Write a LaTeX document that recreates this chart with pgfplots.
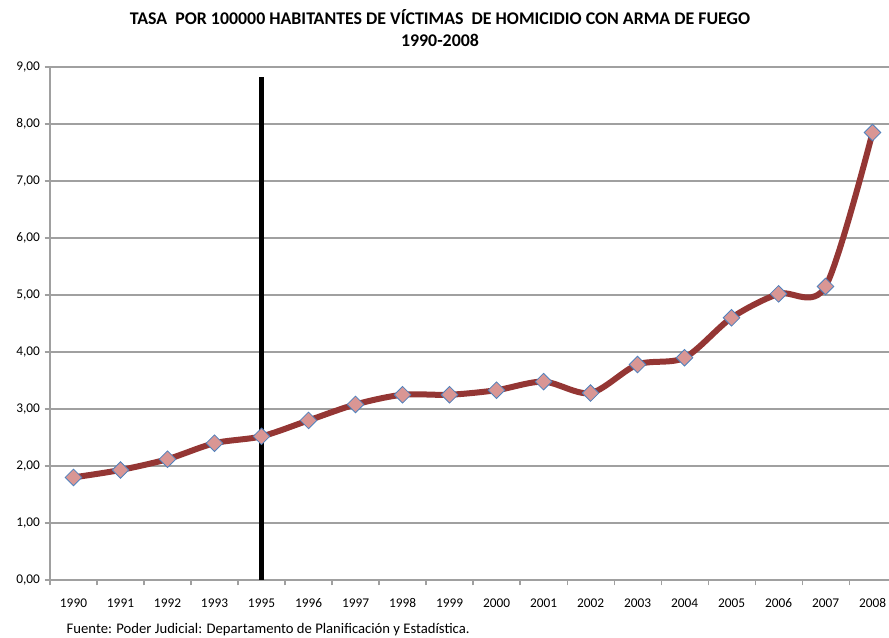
\documentclass[border=0pt]{standalone}
\usepackage{pgfplots}
\pgfplotsset{compat=1.18}
\usepackage{fontspec}
\setmainfont{Carlito}
\definecolor{gridgray}{HTML}{A0A0A0}
\definecolor{linered}{HTML}{943634}
\definecolor{markpink}{HTML}{D99694}
\definecolor{markblue}{HTML}{4F81BD}
\begin{document}
\begin{tikzpicture}
\useasboundingbox (-37.5pt,-43.5pt) rectangle (629.25pt,435pt);
\begin{axis}[
  at={(0,0)}, anchor=south west,
  scale only axis, width=629.25pt, height=384.75pt,
  xmin=-0.5, xmax=17.35, ymin=0, ymax=9,
  axis x line*=bottom, axis y line*=left,
  axis line style={gridgray, line width=0.8pt, -},
  ytick={0,1,...,9},
  ymajorgrids, grid style={gridgray, line width=0.8pt},
  yticklabel style={/pgf/number format/.cd, fixed, fixed zerofill, precision=2, use comma},
  /pgf/number format/assume math mode=true,
  tick label style={font=\fontsize{10}{11}\selectfont, black},
  ytick style={gridgray, line width=0.8pt},
  major tick length=4pt,
  tick align=outside,
  xtick={0,...,17},
  xticklabels={1990,1991,1992,1993,1995,1996,1997,1998,1999,2000,2001,2002,2003,2004,2005,2006,2007,2008},
  xtick style={draw=none},
  xticklabel style={yshift=-6pt, text height=7pt, text depth=1pt},
  extra x ticks={-0.5,0.5,1.5,2.5,3.5,4.5,5.5,6.5,7.5,8.5,9.5,10.5,11.5,12.5,13.5,14.5,15.5,16.5},
  extra x tick labels={},
  extra x tick style={xtick style={draw=gridgray, line width=0.8pt}, major tick length=4pt, grid=none},
  clip=false,
]
\addplot[black, line width=3.75pt] coordinates {(4,0) (4,8.82)};
\addplot[linered, line width=4.5pt, smooth, tension=0.5,
  mark=square*, mark size=4.4pt,
  mark options={fill=markpink, draw=markblue, line width=0.6pt, solid, rotate=45}]
coordinates {
(0,1.80) (1,1.93) (2,2.12) (3,2.40) (4,2.52) (5,2.80) (6,3.08) (7,3.25) (8,3.25)
(9,3.33) (10,3.48) (11,3.28) (12,3.78) (13,3.90) (14,4.60) (15,5.02) (16,5.15) (17,7.85)
};
\end{axis}
\node[font=\fontsize{13.4}{15}\selectfont\bfseries] at (292.5pt,422.25pt) {TASA\ \ POR 100000 HABITANTES DE VÍCTIMAS\ \ DE HOMICIDIO CON ARMA DE FUEGO};
\node[font=\fontsize{13.4}{15}\selectfont\bfseries] at (292.5pt,405pt) {1990-2008};
\node[font=\fontsize{11}{12}\selectfont, anchor=west] at (9pt,-37.5pt) {Fuente: Poder Judicial: Departamento de Planificación y Estadística.};
\end{tikzpicture}
\end{document}
